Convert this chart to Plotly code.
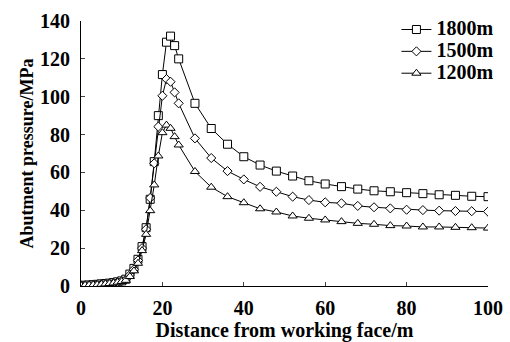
import plotly.graph_objects as go

distance = list(range(0, 25)) + list(range(28, 101, 4))

p1800 = [0.3, 0.4, 0.5, 0.7, 0.9, 1.1, 1.3, 1.5, 1.8, 2.2, 2.7, 3.6, 6.3, 9.3, 14.1, 20.8, 30.8, 45.8, 65.7, 90.0,
         111.7, 128.8, 132.0, 127.0, 120.0,
         96.5, 83.2, 74.9, 68.3, 63.9, 60.7, 58.1, 55.6, 53.9, 52.5, 51.2, 50.3, 49.8, 49.3, 48.8, 48.2, 47.9, 47.4, 47.2]
p1500 = [0.3, 0.4, 0.5, 0.6, 0.8, 1.0, 1.2, 1.4, 1.7, 2.1, 2.6, 3.4, 5.8, 8.8, 13.5, 20.0, 30.0, 46.5, 64.8, 84.2,
         100.5, 109.3, 107.9, 102.3, 96.5,
         78.0, 67.6, 60.7, 56.3, 52.4, 49.8, 47.2, 45.4, 44.2, 43.7, 42.3, 41.6, 41.0, 40.3, 40.1, 39.8, 39.6, 39.5, 39.3]
p1200 = [0.3, 0.4, 0.5, 0.6, 0.7, 0.9, 1.1, 1.3, 1.6, 2.0, 2.4, 3.0, 5.0, 8.0, 12.0, 18.7, 27.3, 39.8, 53.4, 68.7,
         81.0, 85.0, 83.3, 78.9, 74.5,
         60.5, 52.2, 47.2, 44.0, 40.8, 39.1, 37.0, 35.8, 34.9, 34.0, 33.1, 32.6, 31.9, 31.7, 31.2, 31.2, 31.0, 30.8, 30.6]

series_names = ["1800m", "1500m", "1200m"]
x_ticks = [0, 20, 40, 60, 80, 100]
y_ticks = [0, 20, 40, 60, 80, 100, 120, 140]

FONT = "Liberation Serif"

fig = go.Figure()
series = [
    (series_names[0], p1800, "square", 8),
    (series_names[1], p1500, "diamond", 7),
    (series_names[2], p1200, "triangle-up", 8),
]
for name, vals, sym, size in series:
    fig.add_trace(go.Scatter(
        x=distance, y=vals, mode="lines+markers",
        name='<span style="font-size:20px">' + name + '</span>',
        line=dict(color="black", width=1),
        marker=dict(symbol=sym, size=size, color="white",
                    line=dict(color="black", width=1)),
    ))

fig.update_layout(
    width=510, height=342,
    margin=dict(l=81, r=22, t=21, b=56, autoexpand=False),
    paper_bgcolor="white", plot_bgcolor="white",
    font=dict(family=FONT, size=20, color="black"),
    legend=dict(x=0.775, y=1.028, xanchor="left", yanchor="top",
                bgcolor="rgba(0,0,0,0)", tracegroupgap=0,
                font=dict(family=FONT, size=14.5, color="black", weight="bold")),
    xaxis=dict(range=[0, 100], tickvals=x_ticks, ticks="inside", ticklen=4,
               showline=True, linecolor="black", linewidth=1, showgrid=False, zeroline=False,
               ticklabelstandoff=4, automargin=False,
               tickfont=dict(family=FONT, size=20, weight="bold"),
               title=dict(text="Distance from working face/m", standoff=0,
                          font=dict(family=FONT, size=20, weight="bold"))),
    yaxis=dict(range=[0, 140], tickvals=y_ticks, ticks="inside", ticklen=4,
               showline=True, linecolor="black", linewidth=1, showgrid=False, zeroline=False,
               ticklabelstandoff=6, automargin=False,
               tickfont=dict(family=FONT, size=20, weight="bold"),
               title=dict(text="Abutment pressure/MPa", standoff=1,
                          font=dict(family=FONT, size=18, weight="bold"))),
)

fig.write_html("out.html", config={"displayModeBar": False},
               post_script="document.body.style.margin='0';")
